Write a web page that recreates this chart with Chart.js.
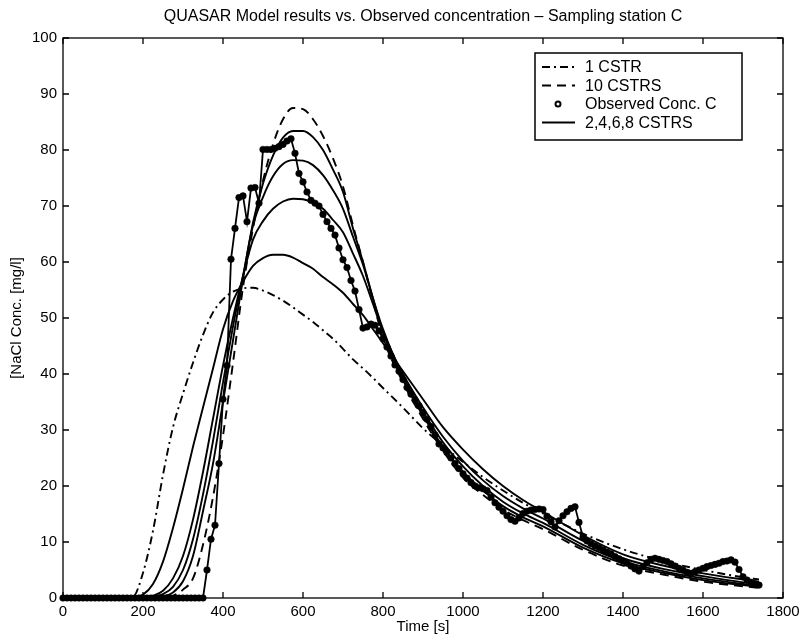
<!DOCTYPE html>
<html>
<head>
<meta charset="utf-8">
<script src="https://cdn.jsdelivr.net/npm/chart.js@4.4.1/dist/chart.umd.min.js"></script>
<style>
html, body { margin: 0; padding: 0; background: #fff; }
#wrap { width: 801px; height: 641px; }
</style>
</head>
<body>
<div id="wrap"><canvas id="chart"></canvas></div>
<script>
// Model curves on a common time grid [s]
const modelTime = [0, 150, 175, 200, 225, 250, 275, 300, 325, 350, 375, 400, 425, 450, 475, 500,
	525, 550, 575, 600, 625, 650, 675, 700, 725, 750, 775, 800, 850, 900, 950, 1000,
	1050, 1100, 1150, 1200, 1300, 1400, 1500, 1600, 1700, 1740];

const cstr1 = [0, 0, 0.2, 4.5, 12, 22, 30.5, 36.5, 42, 47, 51, 53.3, 54.7, 55.3, 55.4, 54.9,
	54.1, 53.1, 51.9, 50.6, 49.3, 47.8, 46.3, 44.5, 42.6, 41, 39.3, 37.5, 34, 30.3, 27.2, 24.3,
	21.6, 19.2, 17, 15.1, 11.5, 8.7, 6.6, 5, 3.7, 3.3];
const cstr2 = [0, 0, 0.1, 0.6, 2.5, 6.5, 12.5, 19.5, 27, 34, 41, 48, 53, 56.5, 59.3, 60.7,
	61.3, 61.3, 60.8, 59.8, 58.8, 57.3, 56, 54.5, 52.5, 50.5, 48, 45.5, 40.5, 35.5, 30.5, 26.5,
	23, 20, 17.5, 15.4, 11.2, 7.8, 5.8, 4.4, 3.3, 2.9];
const cstr4 = [0, 0, 0, 0.1, 0.4, 1.3, 3.5, 7.5, 14, 22.5, 32, 41.5, 50, 57.5, 64, 67.3,
	69.5, 70.8, 71.3, 71.2, 70.6, 69.5, 67.5, 65.3, 61.5, 57.5, 52.5, 47.5, 40, 34, 28.8, 24.5,
	21, 18.2, 16, 14.2, 10.2, 7.1, 5.2, 3.9, 2.8, 2.5];
const cstr6 = [0, 0, 0, 0, 0.2, 0.7, 2, 5, 10.5, 18.5, 28, 38.5, 48.5, 57.5, 66.5, 71.6,
	75.3, 77.5, 78.2, 78.1, 77.3, 75.5, 72.8, 69.5, 64.5, 59.5, 53.5, 48, 39.5, 33.3, 27.8, 23.5,
	20, 17.2, 15.1, 13.4, 9.5, 6.6, 4.8, 3.5, 2.5, 2.2];
const cstr8 = [0, 0, 0, 0, 0.1, 0.3, 1, 3, 7.5, 15.5, 24, 35, 46, 57, 67, 74,
	79, 82.2, 83.4, 83.4, 82.3, 80, 76.5, 72.5, 66, 60, 53.5, 47.5, 39, 32.6, 27, 22.5,
	19.2, 16.4, 14.4, 12.8, 9, 6.2, 4.5, 3.2, 2.3, 2.0];
const cstr10 = [0, 0, 0, 0, 0, 0.1, 0.4, 1.5, 3.5, 9.5, 18, 29, 42, 55.5, 66, 74.5,
	81, 85.5, 87.5, 87.3, 85.5, 82.5, 78.5, 73.5, 66.5, 60, 53, 46.5, 38.5, 32, 26.3, 21.5,
	18.4, 15.8, 13.9, 12.3, 8.6, 5.8, 4.2, 2.9, 2.1, 1.8];

// Observed concentration at station C
const obsTime = [
	0, 10, 20, 30, 40, 50, 60, 70, 80, 90, 100, 110, 120, 130, 140, 150, 160, 170, 180, 190,
	200, 210, 220, 230, 240, 250, 260, 270, 280, 290, 300, 310, 320, 330, 340, 350, 360, 370, 380, 390,
	400, 410, 420, 430, 440, 450, 460, 470, 480, 490, 500, 510, 520, 530, 540, 550, 560, 570, 580, 590,
	600, 610, 620, 630, 640, 650, 660, 670, 680, 690, 700, 710, 720, 730, 740, 750, 760, 770, 780, 790,
	800, 810, 820, 830, 840, 850, 860, 870, 880, 890, 900, 910, 920, 930, 940, 950, 960, 970, 980, 990,
	1000, 1010, 1020, 1030, 1040, 1050, 1060, 1070, 1080, 1090, 1100, 1110, 1120, 1130, 1140, 1150, 1160, 1170, 1180, 1190,
	1200, 1210, 1220, 1230, 1240, 1250, 1260, 1270, 1280, 1290, 1300, 1310, 1320, 1330, 1340, 1350, 1360, 1370, 1380, 1390,
	1400, 1410, 1420, 1430, 1440, 1450, 1460, 1470, 1480, 1490, 1500, 1510, 1520, 1530, 1540, 1550, 1560, 1570, 1580, 1590,
	1600, 1610, 1620, 1630, 1640, 1650, 1660, 1670, 1680, 1690, 1700, 1710, 1720, 1730, 1740];
const obsConc = [
	0, 0, 0, 0, 0, 0, 0, 0, 0, 0, 0, 0, 0, 0, 0, 0, 0, 0, 0, 0,
	0, 0, 0, 0, 0, 0, 0, 0, 0, 0, 0, 0, 0, 0, 0, 0, 5, 10.5, 13, 24,
	35.5, 41.5, 60.5, 66, 71.5, 71.8, 67.2, 73.2, 73.3, 70.5, 80.1, 80.1, 80.1, 80.3, 80.6, 81, 81.6, 82, 79.4, 75.8,
	74.3, 72.5, 71, 70.5, 70, 68.5, 67.2, 66, 64.8, 62.5, 60.4, 59, 56.7, 54.8, 51.5, 48.2, 48.4, 48.9, 48.7, 47.7,
	46.3, 44.8, 43.2, 41.6, 40.5, 39, 37.6, 36.4, 35.4, 34.3, 33.1, 31.9, 30.6, 29.1, 27.5, 26.8, 26, 25, 24, 23.1,
	22.2, 21.4, 20.6, 20, 19.7, 19.5, 19.2, 18, 17, 16.2, 15.5, 14.7, 14, 13.7, 14.3, 15.1, 15.5, 15.7, 15.8, 15.9,
	15.8, 14.6, 13.6, 12.7, 13.8, 14.7, 15.4, 16, 16.3, 13.5, 10.9, 10.2, 9.7, 9.3, 9, 8.6, 8.2, 7.9, 7.4, 7,
	6.6, 6.2, 5.7, 5.2, 4.8, 5.6, 6.3, 6.9, 7.1, 6.9, 6.7, 6.5, 6.1, 5.7, 5.3, 5, 4.6, 4.4, 4.7, 5,
	5.3, 5.6, 5.8, 6, 6.2, 6.5, 6.6, 6.8, 6.4, 5.1, 3.8, 3.2, 2.8, 2.5, 2.3];

const xTickStep = 200;
const yTickStep = 10;

const legendItems = [
	{ label: "1 CSTR", dash: [8, 4, 2, 4], point: false },
	{ label: "10 CSTRS", dash: [9, 6], point: false },
	{ label: "Observed Conc. C", dash: null, point: true },
	{ label: "2,4,6,8 CSTRS", dash: [], point: false }
];

const FONT = "'Liberation Sans', Arial, Helvetica, sans-serif";
Chart.defaults.font.family = FONT;
Chart.defaults.color = "#000";

function pairs(xs, ys){
	return xs.map((t, i) => ({ x: t, y: ys[i] }));
}

function modelSet(label, values, dash){
	return {
		label: label,
		data: pairs(modelTime, values),
		borderColor: "#000",
		borderWidth: 1.9,
		borderDash: dash,
		pointRadius: 0,
		fill: false,
		cubicInterpolationMode: "monotone"
	};
}

// MATLAB style box, inward ticks on all four sides, legend inside the plot
const matlabFrame = {
	id: "matlabFrame",
	afterDraw(chart){
		const ctx = chart.ctx;
		const a = chart.chartArea;
		const xs = chart.scales.x, ys = chart.scales.y;
		const tl = 6;
		ctx.save();
		ctx.strokeStyle = "#000";
		ctx.lineWidth = 1.3;
		ctx.setLineDash([]);
		ctx.strokeRect(a.left, a.top, a.right - a.left, a.bottom - a.top);
		ctx.beginPath();
		xs.ticks.forEach(t => {
			let px = xs.getPixelForValue(t.value);
			ctx.moveTo(px, a.bottom); ctx.lineTo(px, a.bottom - tl);
			ctx.moveTo(px, a.top); ctx.lineTo(px, a.top + tl);
		});
		ys.ticks.forEach(t => {
			let py = ys.getPixelForValue(t.value);
			ctx.moveTo(a.left, py); ctx.lineTo(a.left + tl, py);
			ctx.moveTo(a.right, py); ctx.lineTo(a.right - tl, py);
		});
		ctx.stroke();

		// legend
		let bx = a.right - 248, by = a.top + 15, bw = 207, bh = 87;
		ctx.fillStyle = "#fff";
		ctx.fillRect(bx, by, bw, bh);
		ctx.lineWidth = 1.5;
		ctx.strokeRect(bx, by, bw, bh);
		ctx.font = "16px " + FONT;
		ctx.textBaseline = "middle";
		ctx.fillStyle = "#000";
		legendItems.forEach((item, i) => {
			let cy = by + 14 + i * 18.5;
			if (item.point) {
				ctx.beginPath();
				ctx.setLineDash([]);
				ctx.lineWidth = 2;
				ctx.arc(bx + 23, cy, 2.5, 0, Math.PI * 2);
				ctx.stroke();
			} else {
				ctx.beginPath();
				ctx.setLineDash(item.dash);
				ctx.lineWidth = 1.9;
				ctx.moveTo(bx + 7, cy);
				ctx.lineTo(bx + 40, cy);
				ctx.stroke();
			}
			ctx.fillText(item.label, bx + 50, cy + 1);
		});
		ctx.restore();
	}
};

new Chart(document.getElementById("chart"), {
	type: "line",
	data: {
		datasets: [
			modelSet("1 CSTR", cstr1, [8, 4, 2, 4]),
			modelSet("2 CSTRS", cstr2, []),
			modelSet("4 CSTRS", cstr4, []),
			modelSet("6 CSTRS", cstr6, []),
			modelSet("8 CSTRS", cstr8, []),
			modelSet("10 CSTRS", cstr10, [9, 6]),
			{
				label: "Observed Conc. C",
				data: pairs(obsTime, obsConc),
				borderColor: "#000",
				borderWidth: 1.8,
				pointRadius: 3.3,
				pointBackgroundColor: "#000",
				pointBorderColor: "#000",
				pointBorderWidth: 0.5,
				tension: 0,
				clip: 6
			}
		]
	},
	options: {
		responsive: true,
		maintainAspectRatio: false,
		animation: false,
		layout: { padding: { left: 0, right: 18, top: 0, bottom: 0 } },
		plugins: {
			legend: { display: false },
			tooltip: { enabled: false },
			title: {
				display: true,
				text: "QUASAR Model results vs. Observed concentration \u2013 Sampling station C",
				fullSize: false,
				color: "#000",
				font: { size: 16, weight: "normal" },
				padding: { top: 7, bottom: 11.8 }
			}
		},
		scales: {
			x: {
				type: "linear",
				min: 0,
				max: 1800,
				border: { display: false },
				grid: { display: false, drawTicks: false },
				ticks: { stepSize: xTickStep, padding: 5, maxRotation: 0, font: { size: 15 }, callback: v => String(v) },
				title: { display: true, text: "Time [s]", font: { size: 15 }, padding: { top: 5, bottom: 5 } },
				afterFit(s){ s.height = 43; s.paddingLeft = 0; s.paddingRight = 0; }
			},
			y: {
				min: 0,
				max: 100,
				border: { display: false },
				grid: { display: false, drawTicks: false },
				ticks: { stepSize: yTickStep, padding: 6, font: { size: 15 }, callback: v => String(v) },
				title: { display: true, text: "[NaCl Conc. [mg/l]", font: { size: 15 }, padding: { top: 8, bottom: 8 } },
				afterFit(s){ s.width = 63; s.paddingTop = 0; s.paddingBottom = 0; }
			}
		}
	},
	plugins: [matlabFrame]
});
</script>
</body>
</html>
